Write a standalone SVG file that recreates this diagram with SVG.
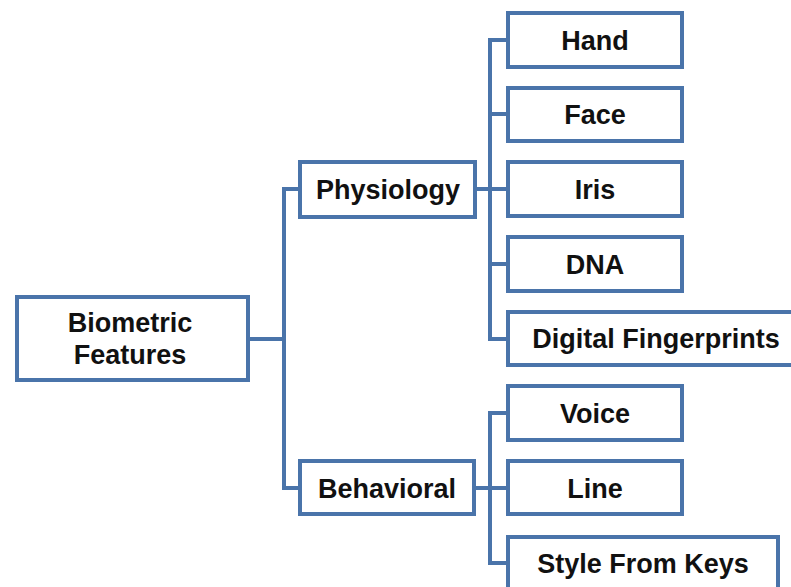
<svg xmlns="http://www.w3.org/2000/svg" width="791" height="587" viewBox="0 0 791 587">
  <style>
    .box { fill: #ffffff; stroke: #4a74aa; stroke-width: 4; }
    .link { fill: none; stroke: #4a74aa; stroke-width: 4; stroke-linejoin: miter; }
    .label { font-family: "Liberation Sans", Arial, sans-serif; font-weight: bold; font-size: 27px; fill: #111111; text-anchor: middle; }
  </style>
  <rect width="791" height="587" fill="#ffffff"/>

  <g id="connectors">
    <!-- root to first level -->
    <path class="link" d="M248,339 H284 M300,189 H284 V488 H300"/>
    <!-- Physiology to its children -->
    <path class="link" d="M475,189 H490 M508,40 H490 V339 H508 M490,114 H508 M490,189 H508 M490,264 H508"/>
    <!-- Behavioral to its children -->
    <path class="link" d="M474,488 H490 M508,413 H490 V563 H508 M490,488 H508"/>
  </g>

  <g id="biometric-features">
    <rect class="box" x="17" y="297" width="231" height="83"/>
    <text class="label" x="130" y="332">Biometric</text>
    <text class="label" x="130" y="364">Features</text>
  </g>

  <g id="physiology">
    <rect class="box" x="300" y="162" width="175" height="55"/>
    <text class="label" x="388" y="199">Physiology</text>
  </g>

  <g id="behavioral">
    <rect class="box" x="300" y="461" width="174" height="53"/>
    <text class="label" x="387" y="498">Behavioral</text>
  </g>

  <g id="hand">
    <rect class="box" x="508" y="13" width="174" height="54"/>
    <text class="label" x="595" y="50">Hand</text>
  </g>

  <g id="face">
    <rect class="box" x="508" y="88" width="174" height="53"/>
    <text class="label" x="595" y="124">Face</text>
  </g>

  <g id="iris">
    <rect class="box" x="508" y="162" width="174" height="54"/>
    <text class="label" x="595" y="199">Iris</text>
  </g>

  <g id="dna">
    <rect class="box" x="508" y="237" width="174" height="54"/>
    <text class="label" x="595" y="274">DNA</text>
  </g>

  <g id="digital-fingerprints">
    <rect class="box" x="508" y="312" width="296" height="53"/>
    <text class="label" x="656" y="348">Digital Fingerprints</text>
  </g>

  <g id="voice">
    <rect class="box" x="508" y="386" width="174" height="54"/>
    <text class="label" x="595" y="423">Voice</text>
  </g>

  <g id="line">
    <rect class="box" x="508" y="461" width="174" height="53"/>
    <text class="label" x="595" y="498">Line</text>
  </g>

  <g id="style-from-keys">
    <rect class="box" x="508" y="537" width="270" height="54"/>
    <text class="label" x="643" y="573">Style From Keys</text>
  </g>
</svg>
